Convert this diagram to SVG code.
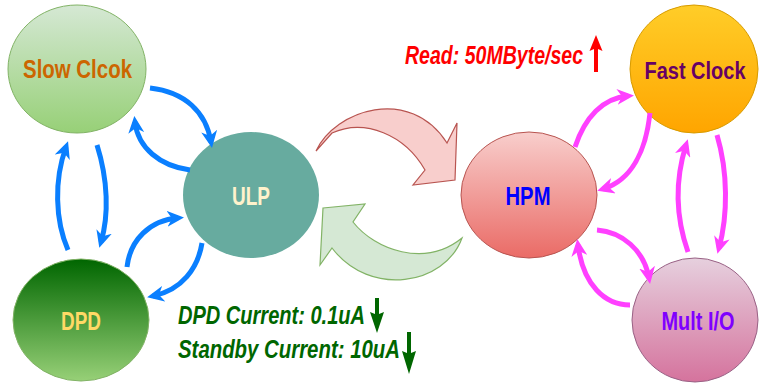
<svg xmlns="http://www.w3.org/2000/svg" width="759" height="383" viewBox="0 0 759 383">
<defs>
<style>
.lbl{font-family:"Liberation Sans",Arial,sans-serif;font-weight:bold;font-size:25px;text-anchor:middle}
.note{font-family:"Liberation Sans",Arial,sans-serif;font-weight:bold;font-style:italic;font-size:26px}
.blue{fill:none;stroke:#0a7fff;stroke-width:5;marker-end:url(#ab)}
.mag{fill:none;stroke:#ff40ff;stroke-width:5;marker-end:url(#am)}
</style>
<linearGradient id="gSlow" x1="0" y1="0" x2="0" y2="1"><stop offset="0" stop-color="#d5e8d4"/><stop offset="1" stop-color="#97d077"/></linearGradient>
<linearGradient id="gDpd" x1="0" y1="0" x2="0" y2="1"><stop offset="0" stop-color="#006600"/><stop offset="1" stop-color="#97d077"/></linearGradient>
<linearGradient id="gHpm" x1="0" y1="0" x2="0" y2="1"><stop offset="0" stop-color="#f8cecc"/><stop offset="1" stop-color="#ea6b66"/></linearGradient>
<linearGradient id="gFast" x1="0" y1="0" x2="0" y2="1"><stop offset="0" stop-color="#ffcd28"/><stop offset="1" stop-color="#ffa500"/></linearGradient>
<linearGradient id="gMult" x1="0" y1="0" x2="0" y2="1"><stop offset="0" stop-color="#e6d0de"/><stop offset="1" stop-color="#d5739d"/></linearGradient>
<marker id="ab" markerUnits="userSpaceOnUse" markerWidth="18" markerHeight="16" refX="11" refY="8" orient="auto"><path d="M0,0 L17,8 L0,16 L5,8 Z" fill="#0a7fff"/></marker>
<marker id="am" markerUnits="userSpaceOnUse" markerWidth="18" markerHeight="16" refX="11" refY="8" orient="auto"><path d="M0,0 L17,8 L0,16 L5,8 Z" fill="#ff40ff"/></marker>
</defs>
<rect width="759" height="383" fill="#ffffff"/>

<g id="slow-clock">
<ellipse cx="77" cy="69" rx="69" ry="64" fill="url(#gSlow)" stroke="#82b366"/>
<text class="lbl" x="77.5" y="78" fill="#cc6600" textLength="109" lengthAdjust="spacingAndGlyphs">Slow Clcok</text>
</g>
<g id="ulp">
<ellipse cx="251" cy="195" rx="68" ry="63" fill="#67ab9f"/>
<text class="lbl" x="251" y="205" fill="#fff2cc" textLength="38" lengthAdjust="spacingAndGlyphs">ULP</text>
</g>
<g id="dpd">
<ellipse cx="81" cy="320" rx="68" ry="61" fill="url(#gDpd)" stroke="#82b366"/>
<text class="lbl" x="81" y="330" fill="#ffd966" textLength="40" lengthAdjust="spacingAndGlyphs">DPD</text>
</g>
<g id="hpm">
<ellipse cx="529" cy="195" rx="68" ry="63" fill="url(#gHpm)" stroke="#b85450"/>
<text class="lbl" x="528" y="205" fill="#0000ff" textLength="45" lengthAdjust="spacingAndGlyphs">HPM</text>
</g>
<g id="fast-clock">
<ellipse cx="694" cy="69" rx="64" ry="64" fill="url(#gFast)" stroke="#d79b00"/>
<text class="lbl" x="695" y="79" fill="#660066" font-size="23" textLength="101" lengthAdjust="spacingAndGlyphs" style="font-size:23px">Fast Clock</text>
</g>
<g id="mult-io">
<ellipse cx="695" cy="320" rx="63" ry="62" fill="url(#gMult)" stroke="#996185"/>
<text class="lbl" x="698" y="330" fill="#7f00ff" textLength="73" lengthAdjust="spacingAndGlyphs">Mult I/O</text>
</g>

<g id="connectors">
<path class="blue" d="M150,88 C185,92 206,112 211,142"/>
<path class="blue" d="M190,170 C160,166 138,148 135,122"/>
<path class="blue" d="M97,145 C108,180 109,215 101,242"/>
<path class="blue" d="M68,250 C55,220 54,180 66,147"/>
<path class="blue" d="M127,267 C130,240 150,220 178,218"/>
<path class="blue" d="M202,243 C198,268 182,290 153,296"/>
<path class="mag" d="M575,147 C585,117 603,98 628,96"/>
<path class="mag" d="M650,113 C646,150 632,180 603,189"/>
<path class="mag" d="M688,252 C675,215 675,180 686,145"/>
<path class="mag" d="M717,135 C728,172 728,215 719,248"/>
<path class="mag" d="M597,230 C622,232 644,250 649,278"/>
<path class="mag" d="M630,305 C605,305 583,285 578,245"/>
<path id="to-hpm" d="M316,151 C335,110 410,85 447,143 L457,123 L455,180 L413,185 L425,170 C405,135 365,118 332,133 Z" fill="#f8cecc" stroke="#b85450" stroke-width="1.2"/>
<path id="to-ulp" d="M323,208 L365,204 L353,222 C375,250 425,268 462,238 C445,285 370,298 332,248 L320,265 Z" fill="#d5e8d4" stroke="#82b366" stroke-width="1.2"/>
</g>

<g id="notes">
<text class="note" x="405" y="64" fill="#ff0000" textLength="178" lengthAdjust="spacingAndGlyphs">Read: 50MByte/sec</text>
<path d="M594,72 L594,49 L589.5,51 L596,35 L602.5,51 L598,49 L598,72 Z" fill="#ff0000"/>
<text class="note" x="178" y="324" fill="#006600" textLength="187" lengthAdjust="spacingAndGlyphs">DPD Current: 0.1uA</text>
<path d="M375,298 L375,314 L370,312 L377,333 L384,312 L379,314 L379,298 Z" fill="#006600"/>
<text class="note" x="178" y="358" fill="#006600" textLength="222" lengthAdjust="spacingAndGlyphs">Standby Current: 10uA</text>
<path d="M407,332 L407,353 L402,351 L409,374 L416,351 L411,353 L411,332 Z" fill="#006600"/>
</g>
</svg>
